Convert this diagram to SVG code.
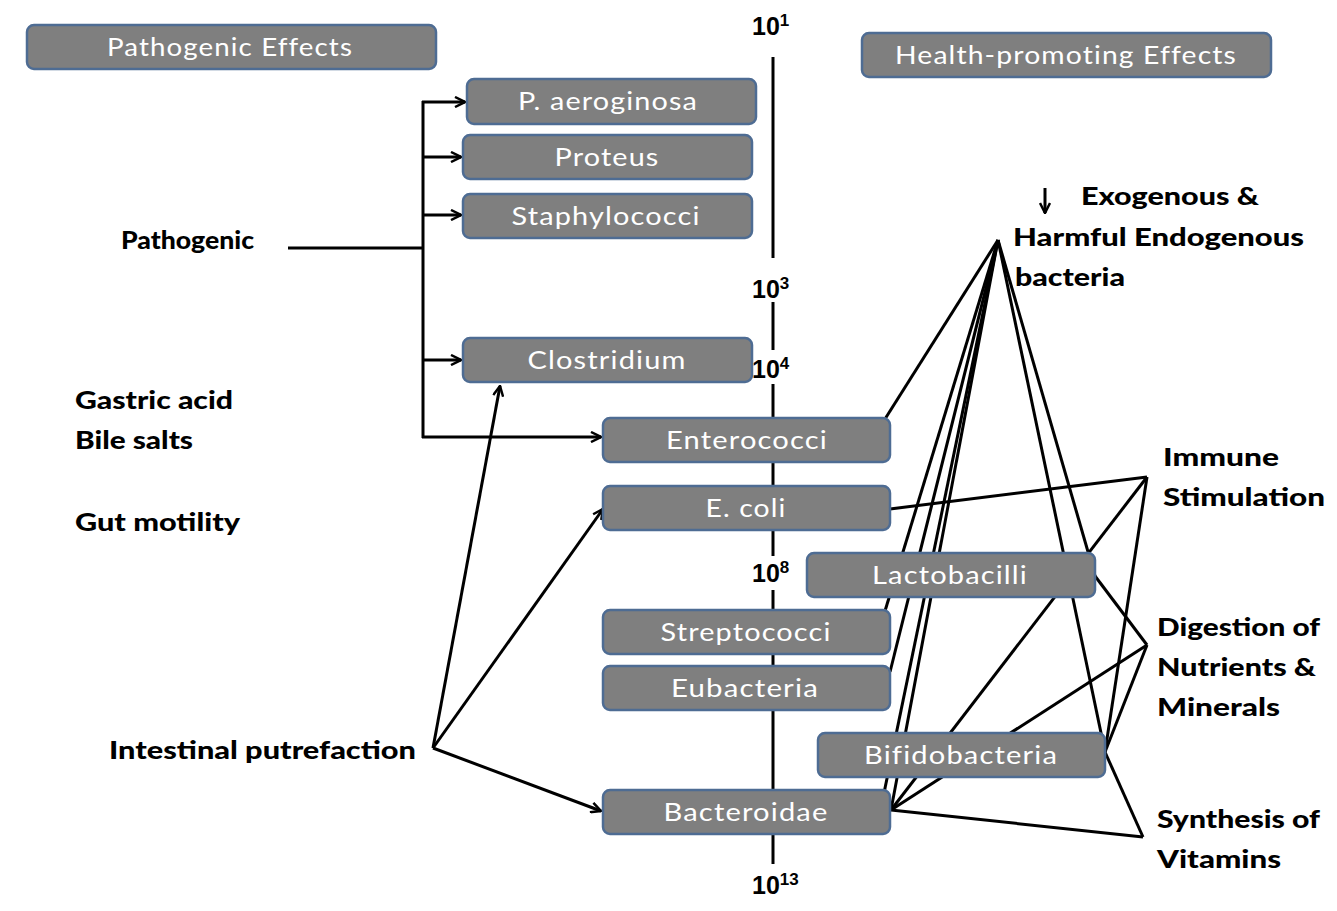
<svg xmlns="http://www.w3.org/2000/svg" width="1337" height="911" viewBox="0 0 1337 911">
<defs>
<marker id="arr" viewBox="0 0 12 12" refX="11" refY="6" markerWidth="12" markerHeight="12" markerUnits="userSpaceOnUse" orient="auto">
<path d="M1,1 L11,6 L1,11" fill="none" stroke="#000" stroke-width="2.5"/>
</marker>
</defs>
<style>
.box{fill:#7f7f7f;stroke:#4e6c93;stroke-width:2.5}
.bt{font-family:Lato,"Open Sans","Liberation Sans",sans-serif;font-size:25px;fill:#ffffff;text-anchor:middle;letter-spacing:1px}
.lb{font-family:Lato,"Liberation Sans",sans-serif;font-weight:900;font-size:25px;fill:#000}
.ax{font-family:"Liberation Sans",sans-serif;font-weight:bold;font-size:25px;fill:#000}
.sup{font-size:17px}
.ln{stroke:#000;stroke-width:3;fill:none}
.lt{stroke:#000;stroke-width:3;fill:none}
</style>
<rect width="1337" height="911" fill="#fff"/>

<g id="axis">
<line class="ln" x1="773" y1="57" x2="773" y2="258"/>
<line class="ln" x1="773" y1="302" x2="773" y2="350"/>
<line class="ln" x1="773" y1="384" x2="773" y2="556"/>
<line class="ln" x1="773" y1="590" x2="773" y2="864"/>
<text class="ax" x="752" y="35">10<tspan class="sup" dy="-9">1</tspan></text>
<text class="ax" x="752" y="298">10<tspan class="sup" dy="-9">3</tspan></text>
<text class="ax" x="752" y="378">10<tspan class="sup" dy="-9">4</tspan></text>
<text class="ax" x="752" y="582">10<tspan class="sup" dy="-9">8</tspan></text>
<text class="ax" x="752" y="894">10<tspan class="sup" dy="-9">13</tspan></text>
</g>

<g id="connectors">
<line class="ln" x1="288" y1="248" x2="423" y2="248"/>
<line class="ln" x1="423" y1="101" x2="423" y2="438"/>
<line class="ln" x1="422" y1="102" x2="465" y2="102" marker-end="url(#arr)"/>
<line class="ln" x1="422" y1="157" x2="461" y2="157" marker-end="url(#arr)"/>
<line class="ln" x1="422" y1="215" x2="461" y2="215" marker-end="url(#arr)"/>
<line class="ln" x1="422" y1="360" x2="461" y2="360" marker-end="url(#arr)"/>
<line class="ln" x1="422" y1="437" x2="601" y2="437" marker-end="url(#arr)"/>
<line class="ln" x1="433" y1="748" x2="500" y2="386" marker-end="url(#arr)"/>
<line class="ln" x1="433" y1="748" x2="603" y2="509" marker-end="url(#arr)"/>
<line class="ln" x1="433" y1="748" x2="601" y2="811" marker-end="url(#arr)"/>
<line class="ln" x1="1045" y1="188" x2="1045" y2="213" marker-end="url(#arr)"/>
<line class="lt" x1="998" y1="240" x2="885" y2="419"/>
<line class="lt" x1="998" y1="240" x2="885" y2="611"/>
<line class="lt" x1="998" y1="240" x2="890" y2="672"/>
<line class="lt" x1="998" y1="240" x2="884" y2="793"/>
<line class="lt" x1="998" y1="240" x2="891" y2="810"/>
<line class="lt" x1="998" y1="240" x2="1105" y2="752"/>
<line class="lt" x1="998" y1="240" x2="1095" y2="576"/>
<line class="lt" x1="890" y1="509" x2="1147" y2="477"/>
<line class="lt" x1="1147" y1="477" x2="891" y2="810"/>
<line class="lt" x1="1147" y1="477" x2="1105" y2="752"/>
<line class="lt" x1="1095" y1="576" x2="1147" y2="645"/>
<line class="lt" x1="1147" y1="645" x2="891" y2="810"/>
<line class="lt" x1="1147" y1="645" x2="1105" y2="752"/>
<line class="lt" x1="1105" y1="752" x2="1143" y2="837"/>
<line class="lt" x1="891" y1="810" x2="1143" y2="837"/>
</g>

<g id="n-pathogenic-effects"><rect class="box" x="27" y="25" width="409" height="44" rx="7"/><text class="bt" x="230" y="56" textLength="246" lengthAdjust="spacingAndGlyphs">Pathogenic Effects</text></g>
<g id="n-health-effects"><rect class="box" x="862" y="33" width="409" height="44" rx="7"/><text class="bt" x="1066" y="64" textLength="342" lengthAdjust="spacingAndGlyphs">Health-promoting Effects</text></g>
<g id="n-paeroginosa"><rect class="box" x="467" y="79" width="289" height="45" rx="7"/><text class="bt" x="608" y="110" textLength="180" lengthAdjust="spacingAndGlyphs">P. aeroginosa</text></g>
<g id="n-proteus"><rect class="box" x="463" y="135" width="289" height="44" rx="7"/><text class="bt" x="607" y="166" textLength="105" lengthAdjust="spacingAndGlyphs">Proteus</text></g>
<g id="n-staphylococci"><rect class="box" x="463" y="194" width="289" height="44" rx="7"/><text class="bt" x="606" y="225" textLength="189" lengthAdjust="spacingAndGlyphs">Staphylococci</text></g>
<g id="n-clostridium"><rect class="box" x="463" y="338" width="289" height="44" rx="7"/><text class="bt" x="607" y="369" textLength="159" lengthAdjust="spacingAndGlyphs">Clostridium</text></g>
<g id="n-enterococci"><rect class="box" x="603" y="418" width="287" height="44" rx="7"/><text class="bt" x="747" y="449" textLength="162" lengthAdjust="spacingAndGlyphs">Enterococci</text></g>
<g id="n-ecoli"><rect class="box" x="603" y="486" width="287" height="44" rx="7"/><text class="bt" x="746" y="517" textLength="81" lengthAdjust="spacingAndGlyphs">E. coli</text></g>
<g id="n-lactobacilli"><rect class="box" x="807" y="553" width="288" height="44" rx="7"/><text class="bt" x="950" y="584" textLength="156" lengthAdjust="spacingAndGlyphs">Lactobacilli</text></g>
<g id="n-streptococci"><rect class="box" x="603" y="610" width="287" height="44" rx="7"/><text class="bt" x="746" y="641" textLength="171" lengthAdjust="spacingAndGlyphs">Streptococci</text></g>
<g id="n-eubacteria"><rect class="box" x="603" y="666" width="287" height="44" rx="7"/><text class="bt" x="745" y="697" textLength="148" lengthAdjust="spacingAndGlyphs">Eubacteria</text></g>
<g id="n-bifidobacteria"><rect class="box" x="818" y="733" width="287" height="44" rx="7"/><text class="bt" x="961" y="764" textLength="194" lengthAdjust="spacingAndGlyphs">Bifidobacteria</text></g>
<g id="n-bacteroidae"><rect class="box" x="603" y="790" width="287" height="44" rx="7"/><text class="bt" x="746" y="821" textLength="165" lengthAdjust="spacingAndGlyphs">Bacteroidae</text></g>

<g id="labels-left">
<text class="lb" x="121" y="249" textLength="133" lengthAdjust="spacingAndGlyphs">Pathogenic</text>
<text class="lb" x="75" y="409" textLength="158" lengthAdjust="spacingAndGlyphs">Gastric acid</text>
<text class="lb" x="75" y="449" textLength="118" lengthAdjust="spacingAndGlyphs">Bile salts</text>
<text class="lb" x="75" y="531" textLength="165" lengthAdjust="spacingAndGlyphs">Gut motility</text>
<text class="lb" x="109" y="759" textLength="307" lengthAdjust="spacingAndGlyphs">Intestinal putrefaction</text>
</g>
<g id="labels-right">
<text class="lb" x="1081" y="205" textLength="178" lengthAdjust="spacingAndGlyphs">Exogenous &amp;</text>
<text class="lb" x="1013" y="246" textLength="291" lengthAdjust="spacingAndGlyphs">Harmful Endogenous</text>
<text class="lb" x="1015" y="286" textLength="110" lengthAdjust="spacingAndGlyphs">bacteria</text>
<text class="lb" x="1163" y="466" textLength="116" lengthAdjust="spacingAndGlyphs">Immune</text>
<text class="lb" x="1163" y="506" textLength="162" lengthAdjust="spacingAndGlyphs">Stimulation</text>
<text class="lb" x="1157" y="636" textLength="163" lengthAdjust="spacingAndGlyphs">Digestion of</text>
<text class="lb" x="1157" y="676" textLength="159" lengthAdjust="spacingAndGlyphs">Nutrients &amp;</text>
<text class="lb" x="1157" y="716" textLength="123" lengthAdjust="spacingAndGlyphs">Minerals</text>
<text class="lb" x="1157" y="828" textLength="163" lengthAdjust="spacingAndGlyphs">Synthesis of</text>
<text class="lb" x="1157" y="868" textLength="124" lengthAdjust="spacingAndGlyphs">Vitamins</text>
</g>
</svg>
